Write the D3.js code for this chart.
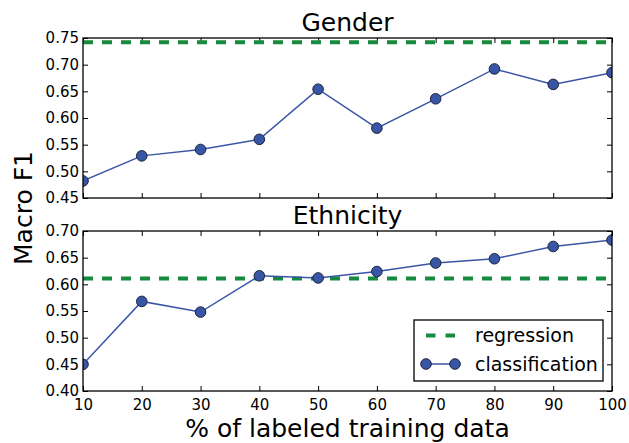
<!DOCTYPE html>
<html>
<head>
<meta charset="utf-8">
<script src="https://cdn.jsdelivr.net/npm/d3@7/dist/d3.min.js"></script>
<style>
  html, body { margin: 0; padding: 0; background: #fff; }
  svg { display: block; font-family: "DejaVu Sans", sans-serif; }
</style>
</head>
<body>
<svg id="chart" width="629" height="443"></svg>
<script>
// ---- data ----
const trainingPct = [10, 20, 30, 40, 50, 60, 70, 80, 90, 100];
const genderClassification = [0.482, 0.529, 0.541, 0.560, 0.654, 0.581, 0.636, 0.692, 0.663, 0.685];
const genderRegression = 0.742;
const ethnicityClassification = [0.450, 0.568, 0.548, 0.616, 0.612, 0.624, 0.640, 0.648, 0.671, 0.683];
const ethnicityRegression = 0.611;
const genderYTicks = [0.45, 0.50, 0.55, 0.60, 0.65, 0.70, 0.75];
const ethnicityYTicks = [0.40, 0.45, 0.50, 0.55, 0.60, 0.65, 0.70];
const xTicks = [10, 20, 30, 40, 50, 60, 70, 80, 90, 100];
const panelTitles = ["Gender", "Ethnicity"];
const seriesNames = ["regression", "classification"];
const xLabel = "% of labeled training data";
const yLabel = "Macro F1";

// ---- styles ----
const blue = "#3955a6";
const green = "#168a3f";
const left = 83, right = 612;
const panels = [
  { title: panelTitles[0], top: 38, bottom: 198, domain: [0.45, 0.75], ticks: genderYTicks,
    cls: genderClassification, reg: genderRegression, showX: false },
  { title: panelTitles[1], top: 231, bottom: 391, domain: [0.40, 0.70], ticks: ethnicityYTicks,
    cls: ethnicityClassification, reg: ethnicityRegression, showX: true }
];

const svg = d3.select("#chart");
const x = d3.scaleLinear().domain([10, 100]).range([left, right]);
const tickLen = 5;

panels.forEach((p, i) => {
  const y = d3.scaleLinear().domain(p.domain).range([p.bottom, p.top]);
  const g = svg.append("g");
  const clipId = "clip" + i;
  svg.append("defs").append("clipPath").attr("id", clipId)
    .append("rect").attr("x", left).attr("y", p.top)
    .attr("width", right - left).attr("height", p.bottom - p.top);

  // axes with inward ticks
  const axB = g.append("g").attr("transform", `translate(0,${p.bottom})`)
    .call(d3.axisBottom(x).tickValues(xTicks).tickSizeInner(-tickLen).tickSizeOuter(0).tickPadding(8)
      .tickFormat(p.showX ? d3.format("d") : () => ""));
  const axT = g.append("g").attr("transform", `translate(0,${p.top})`)
    .call(d3.axisTop(x).tickValues(xTicks).tickSizeInner(-tickLen).tickSizeOuter(0).tickFormat(() => ""));
  const axL = g.append("g").attr("transform", `translate(${left},0)`)
    .call(d3.axisLeft(y).tickValues(p.ticks).tickSizeInner(-tickLen).tickSizeOuter(0).tickPadding(4)
      .tickFormat(d3.format(".2f")));
  const axR = g.append("g").attr("transform", `translate(${right},0)`)
    .call(d3.axisRight(y).tickValues(p.ticks).tickSizeInner(-tickLen).tickSizeOuter(0).tickFormat(() => ""));
  [axB, axT, axL, axR].forEach(a => {
    a.select(".domain").remove();
    a.selectAll(".tick line").attr("stroke", "#000").attr("stroke-width", 1);
    a.selectAll(".tick text").attr("fill", "#000").style("font-size", "15px")
      .style("font-family", "'DejaVu Sans', sans-serif");
  });

  const plot = g.append("g").attr("clip-path", `url(#${clipId})`);
  // regression line
  plot.append("line")
    .attr("x1", x(10)).attr("x2", x(100))
    .attr("y1", y(p.reg)).attr("y2", y(p.reg))
    .attr("stroke", green).attr("stroke-width", 4).attr("stroke-dasharray", "10,9");
  // classification
  const line = d3.line().x((d, j) => x(trainingPct[j])).y(d => y(d));
  plot.append("path").datum(p.cls).attr("d", line)
    .attr("fill", "none").attr("stroke", blue).attr("stroke-width", 1.5);
  plot.selectAll("circle").data(p.cls).enter().append("circle")
    .attr("cx", (d, j) => x(trainingPct[j])).attr("cy", d => y(d)).attr("r", 5.3)
    .attr("fill", blue).attr("stroke", "#1b2440").attr("stroke-width", 1);

  // frame
  g.append("rect").attr("x", left).attr("y", p.top)
    .attr("width", right - left).attr("height", p.bottom - p.top)
    .attr("fill", "none").attr("stroke", "#000").attr("stroke-width", 1.3);

  // title
  g.append("text").attr("x", (left + right) / 2).attr("y", p.top - 7)
    .attr("text-anchor", "middle").style("font-size", "25px").text(p.title);

  if (i === 1) {
    // legend
    const lg = g.append("g");
    lg.append("rect").attr("x", 414).attr("y", 320).attr("width", 189).attr("height", 61)
      .attr("fill", "#fff").attr("stroke", "#000").attr("stroke-width", 1.3);
    lg.append("line").attr("x1", 426).attr("x2", 455).attr("y1", 335.5).attr("y2", 335.5)
      .attr("stroke", green).attr("stroke-width", 4).attr("stroke-dasharray", "9.5,10");
    lg.append("line").attr("x1", 426).attr("x2", 455).attr("y1", 364).attr("y2", 364)
      .attr("stroke", blue).attr("stroke-width", 1.5);
    [426, 455].forEach(cx => lg.append("circle").attr("cx", cx).attr("cy", 364).attr("r", 5.3)
      .attr("fill", blue).attr("stroke", "#1b2440").attr("stroke-width", 1));
    lg.append("text").attr("x", 475).attr("y", 335.5).attr("dy", "0.35em")
      .style("font-size", "19px").text(seriesNames[0]);
    lg.append("text").attr("x", 475).attr("y", 364).attr("dy", "0.35em")
      .style("font-size", "19px").text(seriesNames[1]);
  }
});

// axis labels
svg.append("text").attr("x", (left + right) / 2).attr("y", 437)
  .attr("text-anchor", "middle").style("font-size", "25px").text(xLabel);
svg.append("text").attr("transform", "translate(32,208) rotate(-90)")
  .attr("text-anchor", "middle").style("font-size", "25px").text(yLabel);
</script>
</body>
</html>
